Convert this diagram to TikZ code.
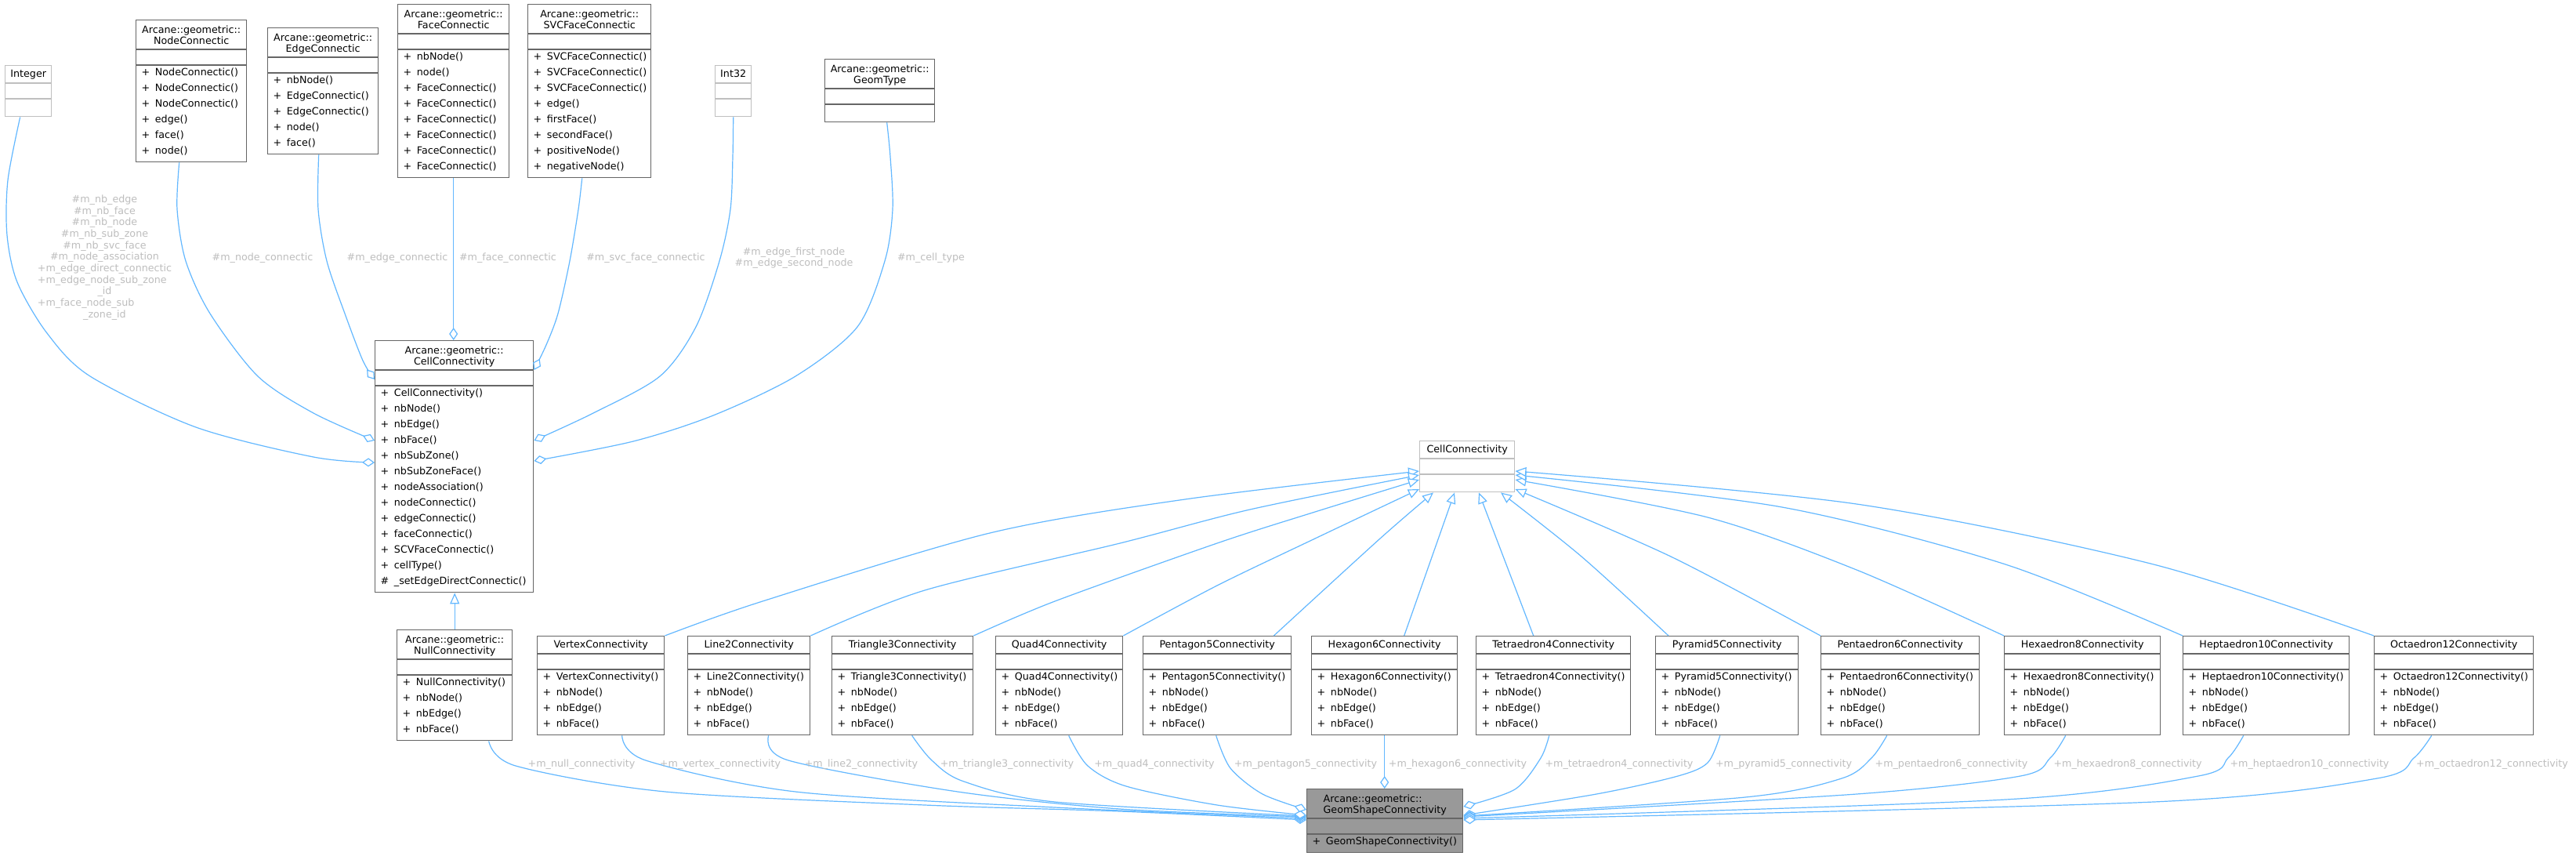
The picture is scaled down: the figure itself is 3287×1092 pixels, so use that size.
\documentclass[tikz,border=0pt]{standalone}
\usepackage{fontspec}
\setmainfont{DejaVu Sans}
\usetikzlibrary{arrows.meta,calc}
\definecolor{bdnorm}{HTML}{666666}
\definecolor{bdext}{HTML}{BFBFBF}
\definecolor{rootfill}{HTML}{999999}
\definecolor{edgeblue}{HTML}{63B8FF}
\definecolor{lblc}{HTML}{BEBEBE}
\newcommand\mpub{+\hspace{6.6pt}}
\newcommand\mprot{\#\hspace{6.6pt}}
\tikzset{
  txt/.style={font=\fontsize{12.7}{14.66}\selectfont, inner sep=0pt, text height=9.5pt, text depth=2.5pt},
  normbox/.style={draw=bdnorm, line width=1.4pt, fill=white, inner sep=0pt, rectangle},
  extbox/.style={draw=bdext, line width=1.4pt, fill=white, inner sep=0pt, rectangle},
  rootbox/.style={draw=bdnorm, line width=1.4pt, fill=rootfill, inner sep=0pt, rectangle},
  normsep/.style={draw=bdnorm, line width=1.4pt},
  extsep/.style={draw=bdext, line width=1.4pt},
  rootsep/.style={draw=bdnorm, line width=1.4pt},
  inh/.style={draw=edgeblue, line width=1.2pt, -{Triangle[length=14pt,width=12pt,fill=white]}},
  agg/.style={draw=edgeblue, line width=1.2pt, -{Diamond[length=16pt,width=11pt,fill=white]}},
  lbl/.style={txt, text=lblc},
  lblm/.style={font=\fontsize{12.7}{14.66}\selectfont, inner sep=0pt, text=lblc},
}
% #1 kind, #2 name, #3 x, #4 y, #5 width, #6 title line 1, #7 title line 2, #8 n methods, #9 methods
\newcommand{\umlclass}[9]{%
  \if\relax\detokenize{#7}\relax\def\uTH{23}\else\def\uTH{38}\fi
  \ifnum#8>0 \pgfmathsetmacro{\uMH}{20*#8+3}\else\def\uMH{22}\fi
  \pgfmathsetmacro{\uTB}{\uTH+20}%
  \pgfmathsetmacro{\uH}{\uTB+\uMH}%
  \node[#1box, minimum width=#5pt, minimum height=\uH pt, anchor=north west] (#2) at (#3,#4) {};
  \draw[#1sep] ($(#2.north west)+(0,\uTH)$) -- ($(#2.north east)+(0,\uTH)$);
  \draw[#1sep] ($(#2.north west)+(0,\uTB)$) -- ($(#2.north east)+(0,\uTB)$);
  \if\relax\detokenize{#7}\relax
    \node[txt, anchor=base] (#2-t) at ($(#2.north)+(0,15.5)$) {#6};
  \else
    \node[txt, anchor=base] (#2-t1) at ($(#2.north)+(0,17.2)$) {#6};
    \node[txt, anchor=base] (#2-t2) at ($(#2.north)+(0,31.2)$) {#7};
  \fi
  \ifnum#8>0
    \foreach \mm [count=\ii] in {#9} {
      \node[txt, anchor=base west] (#2-m\ii) at ($(#2.north west)+(7.5,{\uTB+13.5+20*(\ii-1)})$) {\mm};
    }
  \fi
}
\begin{document}
\begin{tikzpicture}[x=1pt,y=-1pt]
\fill[white] (0,0) rectangle (3287,1092);
\useasboundingbox (0,0) rectangle (3287,1092);

% ---------- top row ----------
\umlclass{ext}{Integer}{6}{83}{59}{Integer}{}{0}{}
\umlclass{norm}{NC}{173}{25}{141}{Arcane::geometric::}{NodeConnectic}{6}{\mpub NodeConnectic(),\mpub NodeConnectic(),\mpub NodeConnectic(),\mpub edge(),\mpub face(),\mpub node()}
\umlclass{norm}{EC}{341}{35}{141}{Arcane::geometric::}{EdgeConnectic}{5}{\mpub nbNode(),\mpub EdgeConnectic(),\mpub EdgeConnectic(),\mpub node(),\mpub face()}
\umlclass{norm}{FC}{507}{5}{142}{Arcane::geometric::}{FaceConnectic}{8}{\mpub nbNode(),\mpub node(),\mpub FaceConnectic(),\mpub FaceConnectic(),\mpub FaceConnectic(),\mpub FaceConnectic(),\mpub FaceConnectic(),\mpub FaceConnectic()}
\umlclass{norm}{SVC}{673}{5}{157}{Arcane::geometric::}{SVCFaceConnectic}{8}{\mpub SVCFaceConnectic(),\mpub SVCFaceConnectic(),\mpub SVCFaceConnectic(),\mpub edge(),\mpub firstFace(),\mpub secondFace(),\mpub positiveNode(),\mpub negativeNode()}
\umlclass{ext}{Int32}{912}{83}{46}{Int32}{}{0}{}
\umlclass{norm}{GT}{1052}{75}{140}{Arcane::geometric::}{GeomType}{0}{}

% ---------- middle ----------
\umlclass{norm}{CC}{478}{434}{202}{Arcane::geometric::}{CellConnectivity}{13}{\mpub CellConnectivity(),\mpub nbNode(),\mpub nbEdge(),\mpub nbFace(),\mpub nbSubZone(),\mpub nbSubZoneFace(),\mpub nodeAssociation(),\mpub nodeConnectic(),\mpub edgeConnectic(),\mpub faceConnectic(),\mpub SCVFaceConnectic(),\mpub cellType(),\mprot \_setEdgeDirectConnectic()}
\umlclass{norm}{Null}{506}{803}{147}{Arcane::geometric::}{NullConnectivity}{4}{\mpub NullConnectivity(),\mpub nbNode(),\mpub nbEdge(),\mpub nbFace()}
\umlclass{ext}{PCC}{1811}{562}{121}{CellConnectivity}{}{0}{}

% ---------- bottom row ----------
\umlclass{norm}{Vx}{685}{811}{162}{VertexConnectivity}{}{4}{\mpub VertexConnectivity(),\mpub nbNode(),\mpub nbEdge(),\mpub nbFace()}
\umlclass{norm}{L2}{877}{811}{156}{Line2Connectivity}{}{4}{\mpub Line2Connectivity(),\mpub nbNode(),\mpub nbEdge(),\mpub nbFace()}
\umlclass{norm}{T3}{1061}{811}{180}{Triangle3Connectivity}{}{4}{\mpub Triangle3Connectivity(),\mpub nbNode(),\mpub nbEdge(),\mpub nbFace()}
\umlclass{norm}{Q4}{1270}{811}{162}{Quad4Connectivity}{}{4}{\mpub Quad4Connectivity(),\mpub nbNode(),\mpub nbEdge(),\mpub nbFace()}
\umlclass{norm}{P5}{1458}{811}{189}{Pentagon5Connectivity}{}{4}{\mpub Pentagon5Connectivity(),\mpub nbNode(),\mpub nbEdge(),\mpub nbFace()}
\umlclass{norm}{H6}{1673}{811}{186}{Hexagon6Connectivity}{}{4}{\mpub Hexagon6Connectivity(),\mpub nbNode(),\mpub nbEdge(),\mpub nbFace()}
\umlclass{norm}{Te4}{1883}{811}{197}{Tetraedron4Connectivity}{}{4}{\mpub Tetraedron4Connectivity(),\mpub nbNode(),\mpub nbEdge(),\mpub nbFace()}
\umlclass{norm}{Py5}{2112}{811}{182}{Pyramid5Connectivity}{}{4}{\mpub Pyramid5Connectivity(),\mpub nbNode(),\mpub nbEdge(),\mpub nbFace()}
\umlclass{norm}{Pe6}{2323}{811}{202}{Pentaedron6Connectivity}{}{4}{\mpub Pentaedron6Connectivity(),\mpub nbNode(),\mpub nbEdge(),\mpub nbFace()}
\umlclass{norm}{Hx8}{2557}{811}{199}{Hexaedron8Connectivity}{}{4}{\mpub Hexaedron8Connectivity(),\mpub nbNode(),\mpub nbEdge(),\mpub nbFace()}
\umlclass{norm}{Hp10}{2785}{811}{212}{Heptaedron10Connectivity}{}{4}{\mpub Heptaedron10Connectivity(),\mpub nbNode(),\mpub nbEdge(),\mpub nbFace()}
\umlclass{norm}{Oc12}{3029}{811}{203}{Octaedron12Connectivity}{}{4}{\mpub Octaedron12Connectivity(),\mpub nbNode(),\mpub nbEdge(),\mpub nbFace()}

\umlclass{root}{GS}{1667}{1006}{199}{{\setbox0\hbox{GeomShapeConnectivity}\makebox[\wd0][l]{Arcane::geometric::}}}{GeomShapeConnectivity}{1}{\mpub GeomShapeConnectivity()}

% ---------- aggregation edges into CellConnectivity ----------
\coordinate (a1s) at ($(Integer.south)+(-10.5,0)$);
\coordinate (a1e) at ($(CC.north west)+(0,156)$);
\draw[agg] plot[smooth] coordinates {(a1s) (10,230) (9,300) (22,360) (60,425) (115,480) (250,545) (400,583) (a1e)};
\coordinate (a2s) at ($(NC.south)+(-15.5,0)$);
\coordinate (a2e) at ($(CC.north west)+(0,128)$);
\draw[agg] plot[smooth] coordinates {(a2s) (226,267) (237,333) (268,400) (329,480) (400,527) (a2e)};
\coordinate (a3s) at ($(EC.south)+(-5.5,0)$);
\coordinate (a3e) at ($(CC.north west)+(0,50)$);
\draw[agg] plot[smooth] coordinates {(a3s) (406,267) (417,333) (440,400) (463,460) (a3e)};
\draw[agg] (FC.south) -- (FC.south |- CC.north);
\coordinate (a5s) at ($(SVC.south)+(-9.5,0)$);
\coordinate (a5e) at ($(CC.north east)+(0,38)$);
\draw[agg] plot[smooth] coordinates {(a5s) (738,267) (727,333) (712,400) (697,440) (a5e)};
\coordinate (a6e) at ($(CC.north east)+(0,128)$);
\draw[agg] plot[smooth] coordinates {(Int32.south) (935,200) (932,267) (918,333) (888,417) (842,480) (757,527) (a6e)};
\coordinate (a7s) at ($(GT.south)+(9,0)$);
\coordinate (a7e) at ($(CC.north east)+(0,154)$);
\draw[agg] plot[smooth] coordinates {(a7s) (1136,200) (1139,267) (1129,333) (1094,417) (1015,480) (910,530) (808,563) (a7e)};

\node[lblm] (lbInt) at (133.5,329) {\begin{tabular}{@{}c@{}}\#m\_nb\_edge\\ \#m\_nb\_face\\ \#m\_nb\_node\\ \#m\_nb\_sub\_zone\\ \#m\_nb\_svc\_face\\ \#m\_node\_association\\ \multicolumn{1}{@{}l@{}}{+m\_edge\_direct\_connectic}\\ \multicolumn{1}{@{}l@{}}{+m\_edge\_node\_sub\_zone}\\ \_id\\ \multicolumn{1}{@{}l@{}}{+m\_face\_node\_sub}\\ \_zone\_id\end{tabular}};
\node[lbl] (lbNC) at (335,329) {\#m\_node\_connectic};
\node[lbl] (lbEC) at (507,329) {\#m\_edge\_connectic};
\node[lbl] (lbFC) at (648,329) {\#m\_face\_connectic};
\node[lbl] (lbSVC) at (824,329) {\#m\_svc\_face\_connectic};
\node[lblm] (lbI32) at (1013,329.5) {\begin{tabular}{@{}c@{}}\#m\_edge\_first\_node\\ \#m\_edge\_second\_node\end{tabular}};
\node[lbl] (lbGT) at (1188,329) {\#m\_cell\_type};

% ---------- inheritance ----------
\draw[inh] (Null.north) -- (Null.north |- CC.south);
\coordinate (i1e) at ($(PCC.north west)+(0,39)$);
\draw[inh] plot[smooth] coordinates {(Vx.north east) (973,767) (1263,680) (1512,637) (i1e)};
\coordinate (i2e) at ($(PCC.north west)+(0,44)$);
\draw[inh] plot[smooth] coordinates {(L2.north east) (1180,753) (1429,693) (1595,650) (i2e)};
\coordinate (i3e) at ($(PCC.north west)+(0,50)$);
\draw[inh] plot[smooth] coordinates {(T3.north east) (1346,767) (1553,693) (1678,653) (i3e)};
\coordinate (i4e) at ($(PCC.north west)+(0,62)$);
\draw[inh] plot[smooth] coordinates {(Q4.north east) (1553,747) (1678,687) (i4e)};
\coordinate (i5s) at ($(P5.north east)+(-23,0)$);
\coordinate (i5e) at ($(PCC.south west)+(18,0)$);
\draw[inh] plot[smooth] coordinates {(i5s) (1761,687) (i5e)};
\draw[inh] ($(H6.north)+(25,0)$) -- ($(PCC.south west)+(45,0)$);
\draw[inh] ($(Te4.north)+(-25.5,0)$) -- ($(PCC.south west)+(76,0)$);
\coordinate (i8s) at ($(Py5.north west)+(17,0)$);
\coordinate (i8e) at ($(PCC.south west)+(104,0)$);
\draw[inh] plot[smooth] coordinates {(i8s) (2018,710) (i8e)};
\coordinate (i9e) at ($(PCC.north east)+(0,62)$);
\draw[inh] plot[smooth] coordinates {(Pe6.north west) (2132,710) (i9e)};
\coordinate (i10e) at ($(PCC.north east)+(0,50)$);
\draw[inh] plot[smooth] coordinates {(Hx8.north west) (2369,727) (2179,660) (i10e)};
\coordinate (i11e) at ($(PCC.north east)+(0,44)$);
\draw[inh] plot[smooth] coordinates {(Hp10.north west) (2559,720) (2274,647) (i11e)};
\coordinate (i12e) at ($(PCC.north east)+(0,39)$);
\draw[inh] plot[smooth] coordinates {(Oc12.north west) (2748,720) (2369,643) (i12e)};

% ---------- aggregation edges into GeomShapeConnectivity ----------
\coordinate (g0s) at ($(Null.south)+(43.5,0)$);
\coordinate (g0e) at ($(GS.north west)+(0,40)$);
\draw[agg] plot[smooth] coordinates {(g0s) (658,977) (849,1010) (1180,1027) (1429,1035) (g0e)};
\coordinate (g1s) at ($(Vx.south)+(27,0)$);
\coordinate (g1e) at ($(GS.north west)+(0,38)$);
\draw[agg] plot[smooth] coordinates {(g1s) (824,970) (1015,1010) (1346,1030) (g1e)};
\coordinate (g2s) at ($(L2.south)+(25,0)$);
\coordinate (g2e) at ($(GS.north west)+(0,36)$);
\draw[agg] plot[smooth] coordinates {(g2s) (1006,970) (1222,1010) (1429,1032) (g2e)};
\coordinate (g3s) at ($(T3.south)+(12,0)$);
\coordinate (g3e) at ($(GS.north west)+(0,35)$);
\draw[agg] plot[smooth] coordinates {(g3s) (1189,970) (1230,997) (1346,1023) (g3e)};
\coordinate (g4s) at ($(Q4.south)+(12,0)$);
\coordinate (g4e) at ($(GS.north west)+(0,34)$);
\draw[agg] plot[smooth] coordinates {(g4s) (1388,977) (1437,1003) (1553,1027) (g4e)};
\coordinate (g5s) at ($(P5.south)+(-1.5,0)$);
\coordinate (g5e) at ($(GS.north west)+(0,27)$);
\draw[agg] plot[smooth] coordinates {(g5s) (1570,980) (1611,1013) (g5e)};
\draw[agg] (H6.south) -- (H6.south |- GS.north);
\coordinate (g7s) at ($(Te4.south)+(-5.5,0)$);
\coordinate (g7e) at ($(GS.north east)+(0,23)$);
\draw[agg] plot[smooth] coordinates {(g7s) (1966,967) (1933,1007) (g7e)};
\coordinate (g8s) at ($(Py5.south)+(-9,0)$);
\coordinate (g8e) at ($(GS.north east)+(0,34)$);
\draw[agg] plot[smooth] coordinates {(g8s) (2179,973) (2141,990) (2037,1013) (g8e)};
\coordinate (g9s) at ($(Pe6.south)+(-17,0)$);
\coordinate (g9e) at ($(GS.north east)+(0,35)$);
\draw[agg] plot[smooth] coordinates {(g9s) (2388,967) (2350,993) (2227,1017) (g9e)};
\coordinate (g10s) at ($(Hx8.south)+(-21.5,0)$);
\coordinate (g10e) at ($(GS.north east)+(0,36)$);
\draw[agg] plot[smooth] coordinates {(g10s) (2616,967) (2578,990) (2369,1013) (g10e)};
\coordinate (g11s) at ($(Hp10.south)+(-29,0)$);
\coordinate (g11e) at ($(GS.north east)+(0,38)$);
\draw[agg] plot[smooth] coordinates {(g11s) (2843,967) (2805,990) (2559,1020) (g11e)};
\coordinate (g12s) at ($(Oc12.south)+(-28.5,0)$);
\coordinate (g12e) at ($(GS.north east)+(0,40)$);
\draw[agg] plot[smooth] coordinates {(g12s) (3080,967) (3033,993) (2748,1023) (g12e)};

\node[lbl] (lb0) at (742,975) {+m\_null\_connectivity};
\node[lbl] (lb1) at (919,975) {+m\_vertex\_connectivity};
\node[lbl] (lb2) at (1099,975) {+m\_line2\_connectivity};
\node[lbl] (lb3) at (1285,975) {+m\_triangle3\_connectivity};
\node[lbl] (lb4) at (1473,975) {+m\_quad4\_connectivity};
\node[lbl] (lb5) at (1666,975) {+m\_pentagon5\_connectivity};
\node[lbl] (lb6) at (1860,975) {+m\_hexagon6\_connectivity};
\node[lbl] (lb7) at (2066,975) {+m\_tetraedron4\_connectivity};
\node[lbl] (lb8) at (2276,975) {+m\_pyramid5\_connectivity};
\node[lbl] (lb9) at (2490,975) {+m\_pentaedron6\_connectivity};
\node[lbl] (lb10) at (2715,975) {+m\_hexaedron8\_connectivity};
\node[lbl] (lb11) at (2947,975) {+m\_heptaedron10\_connectivity};
\node[lbl] (lb12) at (3180,975) {+m\_octaedron12\_connectivity};
\end{tikzpicture}
\end{document}
